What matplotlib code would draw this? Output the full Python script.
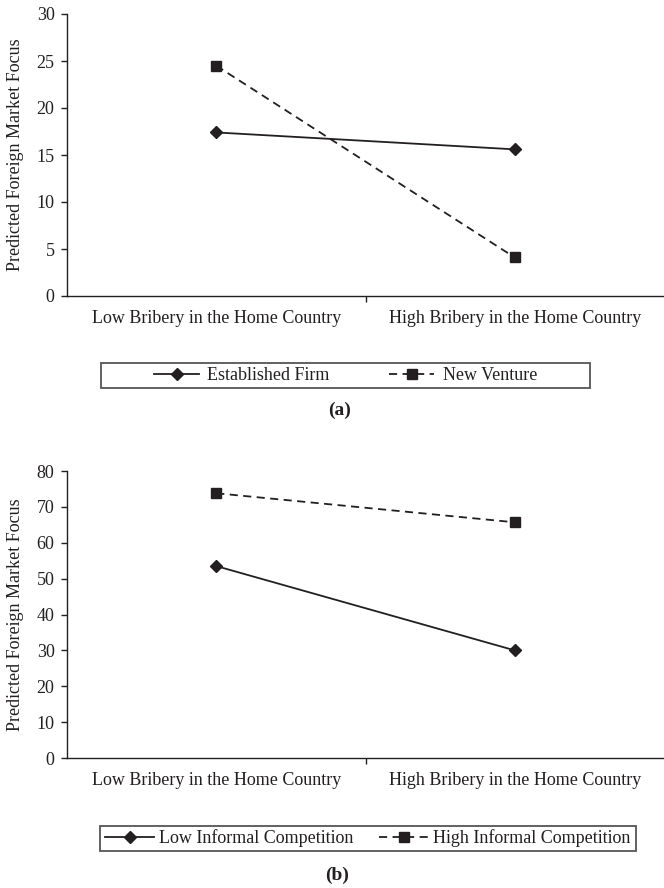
import numpy as np
import matplotlib
matplotlib.use('Agg')
import matplotlib.pyplot as plt
import matplotlib.patches as mpatches

plt.rcParams['font.family'] = ['Liberation Serif', 'DejaVu Serif']

INK = '#231f20'

# data
categories = ['Low Bribery in the Home Country',
              'High Bribery in the Home Country']
ylabel = 'Predicted Foreign Market Focus'

a_names = ['Established Firm', 'New Venture']
a_established = [17.4, 15.6]
a_venture = [24.5, 4.1]
a_yticks = [0, 5, 10, 15, 20, 25, 30]

b_names = ['Low Informal Competition', 'High Informal Competition']
b_low = [53.5, 30.0]
b_high = [73.8, 65.7]
b_yticks = [0, 10, 20, 30, 40, 50, 60, 70, 80]

W, H = 664, 888
FS = 13
fig = plt.figure(figsize=(W / 100, H / 100), dpi=100)


def fx(px):
    return px / W


def fy(py):
    return 1 - py / H


def panel(rect, ys, names, yticks, box, leg_opts, tag, tag_y):
    ax = fig.add_axes(rect)
    x = np.arange(len(categories))
    l1, = ax.plot(x, ys[0], color=INK, lw=1.3, marker='D', ms=6.5,
                  mfc=INK, mec=INK, label=names[0])
    l2, = ax.plot(x, ys[1], color=INK, lw=1.3, ls=(0, (4.5, 3)),
                  marker='s', ms=7.5, mfc=INK, mec=INK, label=names[1])
    ax.set_xlim(-0.5, 1.5)
    ax.set_ylim(yticks[0], yticks[-1])
    ax.set_yticks(yticks)
    ax.set_xticks([0.5])
    ax.set_xticklabels([''])
    ax.set_xticks(x, minor=True)
    ax.set_xticklabels(categories, minor=True)
    ax.tick_params(axis='x', which='minor', length=0, pad=10,
                   labelsize=FS, colors=INK)
    ax.tick_params(axis='x', which='major', length=4, width=1,
                   direction='out', colors=INK)
    ax.tick_params(axis='y', length=4, width=1, direction='out', pad=5,
                   labelsize=FS, colors=INK)
    for s in ['top', 'right']:
        ax.spines[s].set_visible(False)
    for s in ['left', 'bottom']:
        ax.spines[s].set_color(INK)
        ax.spines[s].set_linewidth(1.0)
    ax.set_ylabel(ylabel, fontsize=FS, color=INK)
    ax.yaxis.set_label_coords(-0.072, 0.5)

    # legend box
    bx0, by0, bx1, by1 = box
    rect_patch = mpatches.Rectangle((fx(bx0), fy(by1)), fx(bx1) - fx(bx0),
                                    fy(by0) - fy(by1),
                                    transform=fig.transFigure, fill=False,
                                    ec='#555555', lw=1.3)
    fig.patches.append(rect_patch)
    fig.legend([l1, l2], names, loc='center',
               bbox_to_anchor=(fx((bx0 + bx1) / 2), fy((by0 + by1) / 2)),
               ncol=2, frameon=False, fontsize=FS, labelcolor=INK,
               **leg_opts)
    fig.text(fx(tag[0]), fy(tag_y), tag[1], ha='center', va='center',
             fontsize=14, fontweight='bold', color=INK)
    return ax


ax_a = panel([fx(67), fy(296), fx(664) - fx(67), fy(14) - fy(296)],
             [a_established, a_venture], a_names, a_yticks,
             (101, 363, 590, 388),
             dict(handlelength=2.5, handletextpad=0.45, columnspacing=3.3),
             (340, '(a)'), 410)
ax_b = panel([fx(67), fy(758), fx(664) - fx(67), fy(471) - fy(758)],
             [b_low, b_high], b_names, b_yticks,
             (100, 826, 636, 851),
             dict(handlelength=2.7, handletextpad=0.3, columnspacing=1.4),
             (337, '(b)'), 875)

fig.savefig('out.png', dpi=100)
